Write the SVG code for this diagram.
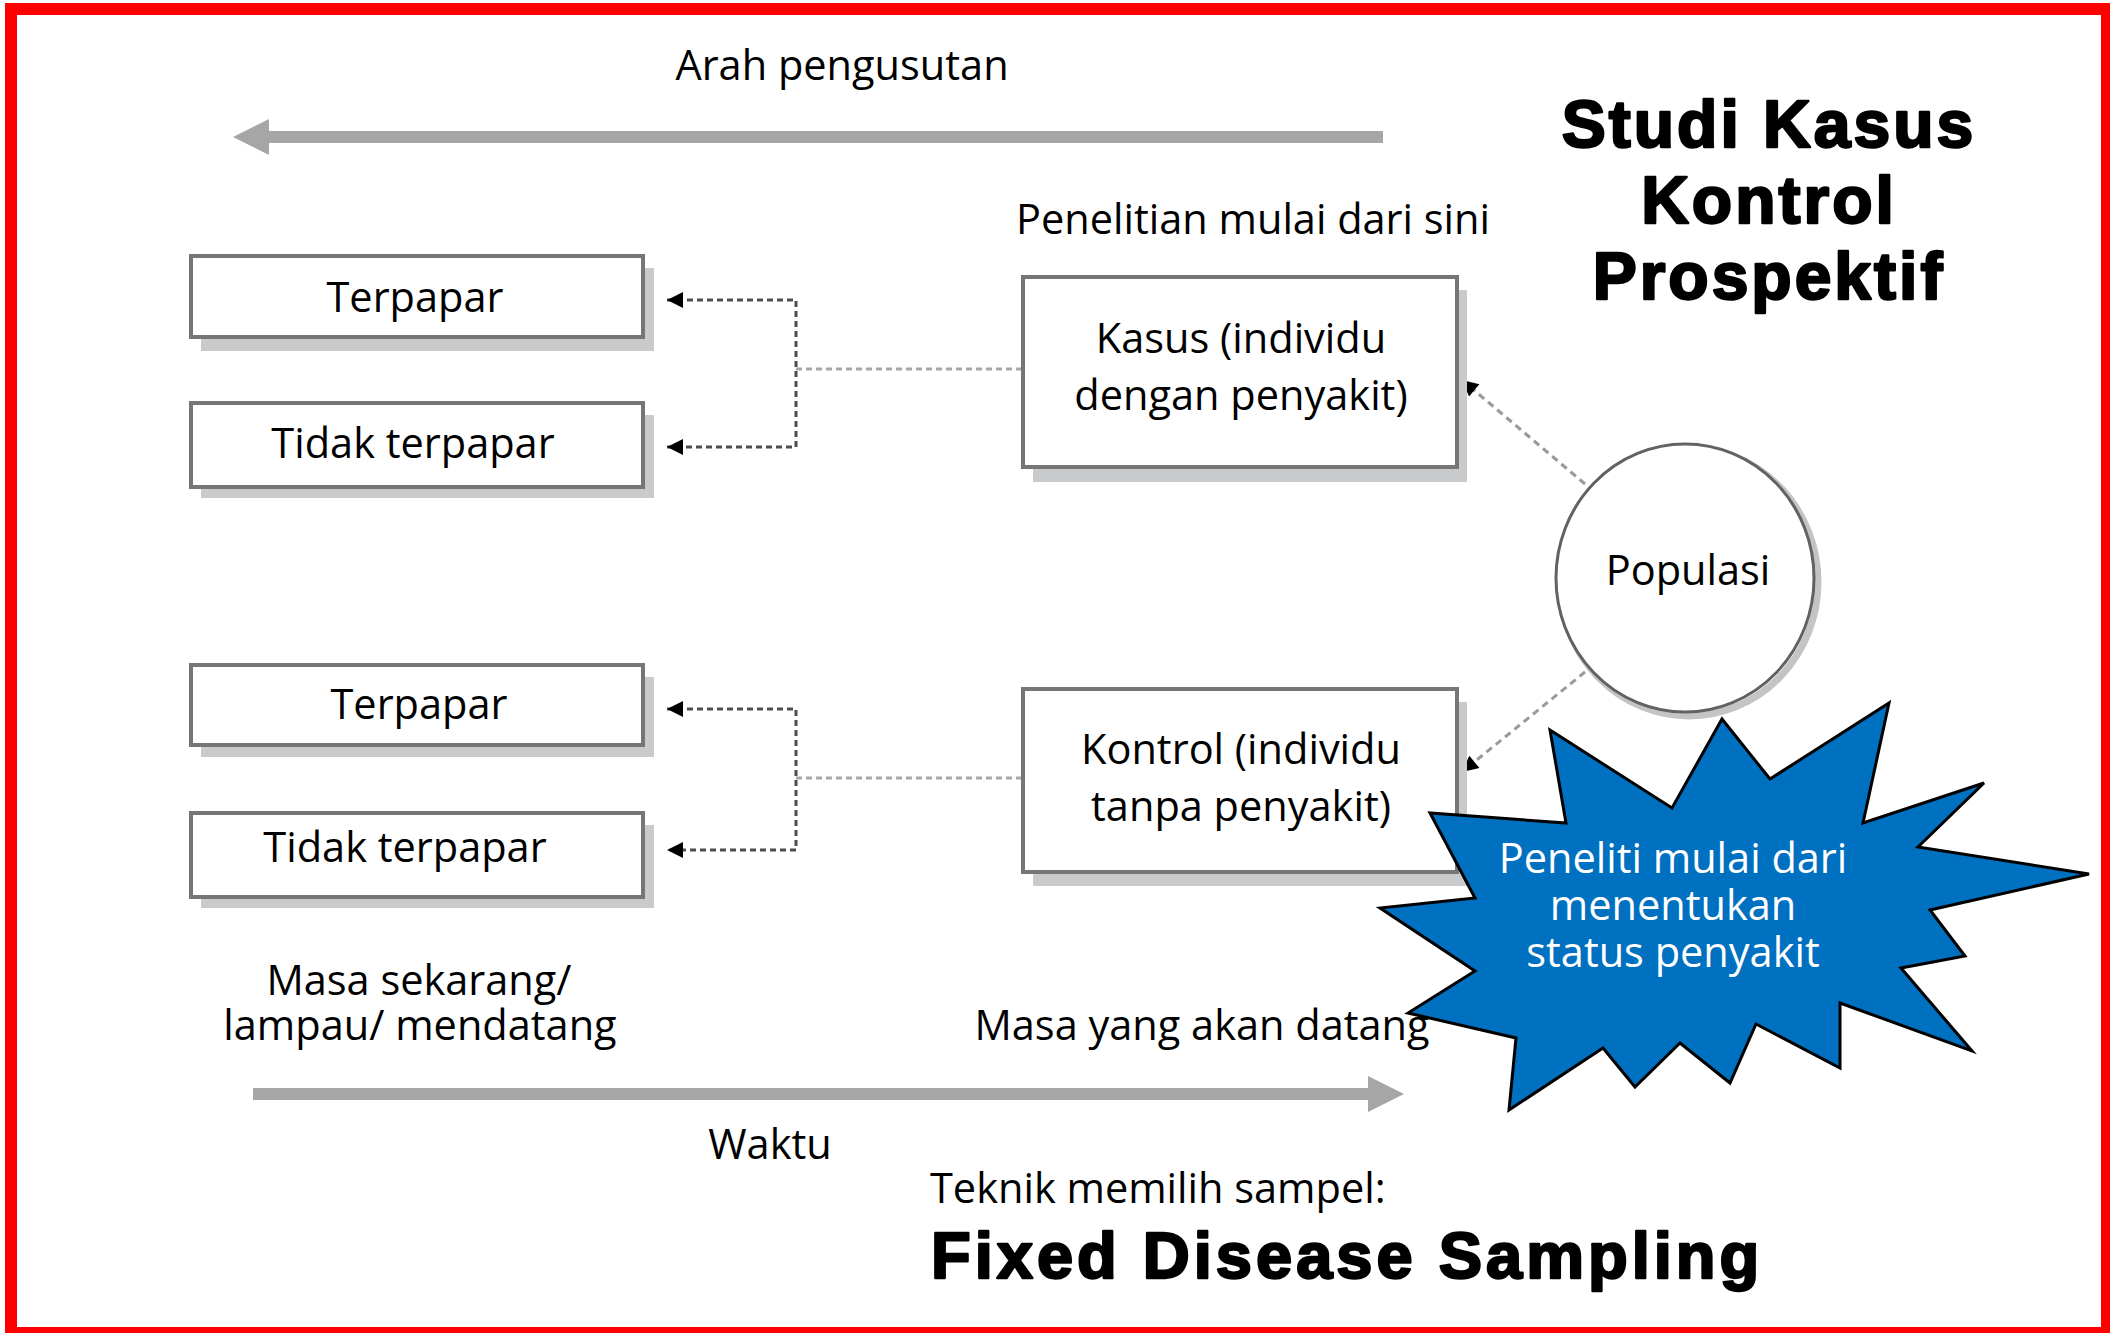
<svg xmlns="http://www.w3.org/2000/svg" width="2110" height="1333" viewBox="0 0 2110 1333">
  <defs>
    <style>
      .lbl { font-family: "Open Sans", "Noto Sans", "Liberation Sans", sans-serif; font-size: 41.5px; fill: #000; }
      .mid { text-anchor: middle; }
      .white { fill: #fff; }
      .heavy { font-family: "Liberation Sans", Arial, sans-serif; font-weight: bold; fill: #000; stroke: #000; stroke-width: 2.4px; stroke-linejoin: round; }
      .box { fill: #fff; stroke: #767676; stroke-width: 4; }
      .shadow { fill: #c8cacc; }
      .bigarrow { fill: #a6a6a6; }
      .dots { fill: none; stroke: #4d4d4d; stroke-width: 3; stroke-dasharray: 6 4; }
      .dots-light { fill: none; stroke: #a8a8a8; stroke-width: 3; stroke-dasharray: 6 4; }
      .diag { fill: none; stroke: #9a9a9a; stroke-width: 3; stroke-dasharray: 7 5; }
    </style>
    <marker id="tip" viewBox="0 0 10 10" refX="10" refY="5" markerWidth="20" markerHeight="16" markerUnits="userSpaceOnUse" orient="auto-start-reverse">
      <path d="M0,0 L10,5 L0,10 z" fill="#000"/>
    </marker>
  </defs>

  <rect width="2110" height="1333" fill="#fff"/>

  <!-- red frame -->
  <rect x="11" y="9" width="2096" height="1324" fill="none" stroke="#ff0000" stroke-width="12"/>

  <!-- direction arrows -->
  <path class="bigarrow" d="M1383,131 L269,131 L269,119 L233,137 L269,155 L269,143 L1383,143 z"/>
  <path class="bigarrow" d="M253,1088 L1368,1088 L1368,1076 L1404,1094 L1368,1112 L1368,1100 L253,1100 z"/>

  <text class="lbl mid" x="842" y="80">Arah pengusutan</text>
  <text class="lbl mid" x="1253" y="234">Penelitian mulai dari sini</text>

  <!-- title -->
  <g id="title">
    <text class="heavy" x="1769" y="147" font-size="66" text-anchor="middle" letter-spacing="3">Studi Kasus</text>
    <text class="heavy" x="1769" y="223" font-size="66" text-anchor="middle" letter-spacing="3">Kontrol</text>
    <text class="heavy" x="1769" y="299" font-size="66" text-anchor="middle" letter-spacing="3">Prospektif</text>
  </g>

  <!-- connectors -->
  <g id="connectors">
    <path class="dots" d="M667,300 L796,300 L796,447 L667,447" marker-start="url(#tip)" marker-end="url(#tip)"/>
    <path class="dots-light" d="M796,369 L1021,369"/>
    <path class="dots" d="M667,709 L796,709 L796,850 L667,850" marker-start="url(#tip)" marker-end="url(#tip)"/>
    <path class="dots-light" d="M796,778 L1021,778"/>
    <path class="diag" d="M1585,484 L1462,380" marker-end="url(#tip)"/>
    <path class="diag" d="M1585,672 L1462,772" marker-end="url(#tip)"/>
  </g>

  <!-- exposure boxes, case group -->
  <g id="case-exposed">
    <rect class="shadow" x="201" y="268" width="453" height="83"/>
    <rect class="box" x="191" y="256" width="452" height="81"/>
    <text class="lbl mid" x="415" y="312">Terpapar</text>
  </g>
  <g id="case-unexposed">
    <rect class="shadow" x="201" y="415" width="453" height="83"/>
    <rect class="box" x="191" y="403" width="452" height="84"/>
    <text class="lbl mid" x="413" y="458">Tidak terpapar</text>
  </g>

  <!-- exposure boxes, control group -->
  <g id="control-exposed">
    <rect class="shadow" x="201" y="677" width="453" height="80"/>
    <rect class="box" x="191" y="665" width="452" height="80"/>
    <text class="lbl mid" x="419" y="719">Terpapar</text>
  </g>
  <g id="control-unexposed">
    <rect class="shadow" x="201" y="825" width="453" height="83"/>
    <rect class="box" x="191" y="813" width="452" height="84"/>
    <text class="lbl mid" x="405" y="862">Tidak terpapar</text>
  </g>

  <!-- case / control boxes -->
  <g id="kasus">
    <rect class="shadow" x="1033" y="290" width="434" height="192"/>
    <rect class="box" x="1023" y="277" width="434" height="190"/>
    <text class="lbl mid" x="1241" y="353">Kasus (individu</text>
    <text class="lbl mid" x="1241" y="410">dengan penyakit)</text>
  </g>
  <g id="kontrol">
    <rect class="shadow" x="1033" y="702" width="434" height="184"/>
    <rect class="box" x="1023" y="689" width="434" height="183"/>
    <text class="lbl mid" x="1241" y="764">Kontrol (individu</text>
    <text class="lbl mid" x="1241" y="821">tanpa penyakit)</text>
  </g>

  <!-- population -->
  <g id="populasi">
    <ellipse cx="1689" cy="582" rx="129" ry="134" fill="none" stroke="#c4c4c4" stroke-width="7"/>
    <ellipse cx="1685" cy="578" rx="129" ry="134" fill="#fff" stroke="#626262" stroke-width="3"/>
    <text class="lbl mid" x="1688" y="585">Populasi</text>
  </g>

  <!-- callout burst -->
  <g id="callout">
    <polygon fill="#0070c0" stroke="#000" stroke-width="3" stroke-linejoin="miter"
      points="1550,730 1672,808 1722,719 1770,779 1889,703 1863,823 1984,783 1918,847 2089,874 1930,910 1965,956 1901,968 1972,1051 1840,1003 1840,1068 1756,1024 1730,1083 1680,1043 1635,1087 1603,1048 1509,1110 1516,1038 1408,1013 1475,971 1380,908 1475,898 1430,813 1566,823"/>
    <text class="lbl mid white" x="1673" y="873">Peneliti mulai dari</text>
    <text class="lbl mid white" x="1673" y="920">menentukan</text>
    <text class="lbl mid white" x="1673" y="967">status penyakit</text>
  </g>

  <!-- time axis labels -->
  <text class="lbl mid" x="419" y="995">Masa sekarang/</text>
  <text class="lbl mid" x="420" y="1040">lampau/ mendatang</text>
  <text class="lbl mid" x="1202" y="1040">Masa yang akan datang</text>
  <text class="lbl mid" x="770" y="1159">Waktu</text>

  <!-- sampling technique -->
  <text class="lbl" x="930" y="1203">Teknik memilih sampel:</text>
  <text class="heavy" x="931" y="1278" font-size="65" letter-spacing="4">Fixed Disease Sampling</text>
</svg>
